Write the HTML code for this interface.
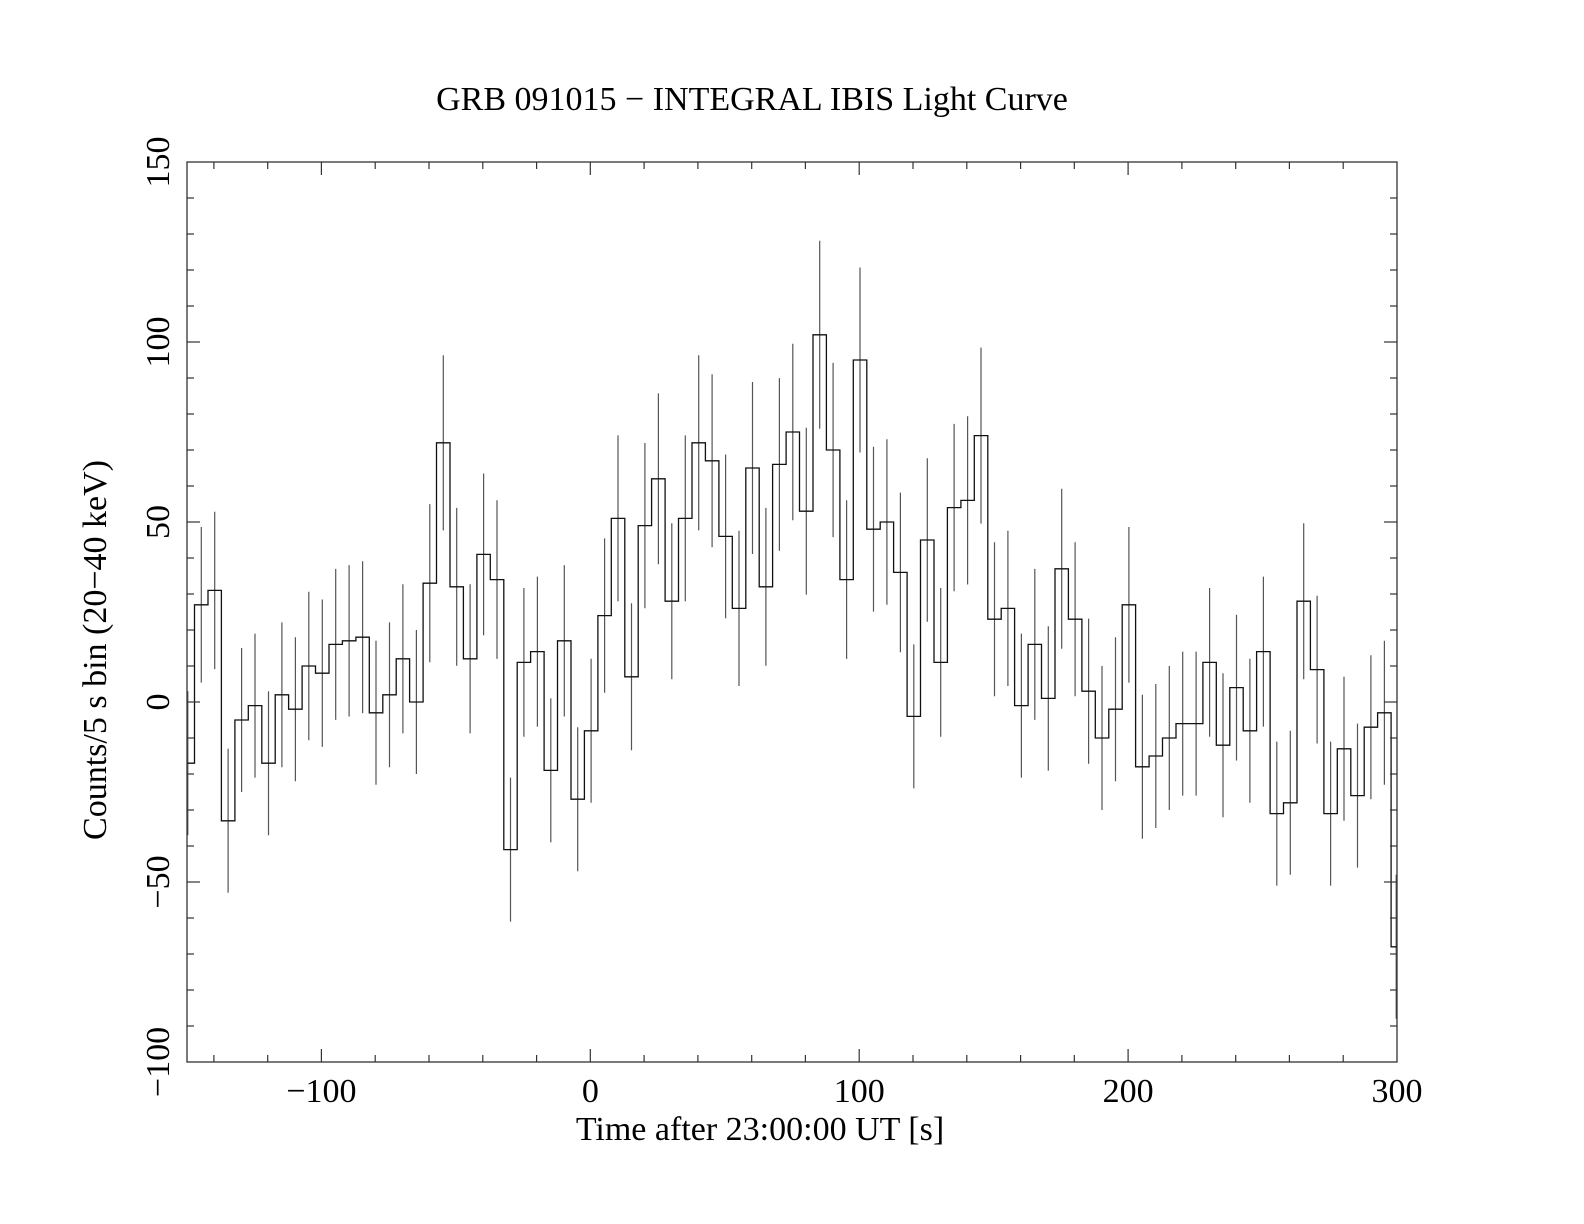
<!DOCTYPE html>
<html><head><meta charset="utf-8"><style>
html,body{margin:0;padding:0;background:#fff;}
svg{display:block;}
text{font-family:"Liberation Serif",serif;fill:#000;}
</style></head><body>
<svg id="s" width="1584" height="1224" xmlns="http://www.w3.org/2000/svg">
<text x="752" y="110" font-size="34" text-anchor="middle">GRB 091015 − INTEGRAL IBIS Light Curve</text>
<text x="760" y="1140" font-size="34" text-anchor="middle">Time after 23:00:00 UT [s]</text>
<text transform="translate(106,650) rotate(-90)" font-size="34" text-anchor="middle">Counts/5 s bin (20−40 keV)</text>
<g id="g"></g>
</svg>
<script>
var X0=187,X1=1397,Y0=162,Y1=1062;
function X(t){return X0+(t+150)*(X1-X0)/450;}
function Y(v){return Y0+(150-v)*(Y1-Y0)/250;}
var v=[-17,27,31,-33,-5,-1,-17,2,-2,10,8,16,17,18,-3,2,12,0,33,72,32,12,41,34,-41,11,14,-19,17,-27,-8,24,51,7,49,62,28,51,72,67,46,26,65,32,66,75,53,102,70,34,95,48,50,36,-4,45,11,54,56,74,23,26,-1,16,1,37,23,3,-10,-2,27,-18,-15,-10,-6,-6,11,-12,4,-8,14,-31,-28,28,9,-31,-13,-26,-7,-3,-68];
var s='';
var d='';
for(var k=0;k<v.length;k++){
 var a=Math.max(-150,-152.2+5*k),b=Math.min(300,-147.2+5*k);
 var y=Y(v[k]).toFixed(1);
 if(k==0)d+='M'+X(a).toFixed(1)+' '+y;else d+='V'+y;
 d+='H'+X(b).toFixed(1);
 var c=-149.7+5*k; if(c>300)c=299.7; if(c<-150)c=-150;
 var e=20+0.06*Math.max(v[k],0);
 var lo=Math.max(-100,v[k]-e),hi=Math.min(150,v[k]+e);
 s+='<line x1="'+X(c).toFixed(1)+'" x2="'+X(c).toFixed(1)+'" y1="'+Y(hi).toFixed(1)+'" y2="'+Y(lo).toFixed(1)+'" stroke="#555" stroke-width="1.2"/>';
}
s+='<path d="'+d+'" fill="none" stroke="#111" stroke-width="1.3"/>';
s+='<rect x="'+X0+'" y="'+Y0+'" width="'+(X1-X0)+'" height="'+(Y1-Y0)+'" fill="none" stroke="#333" stroke-width="1.3"/>';
for(var t=-140;t<300;t+=20){var L=(t%100==0)?13:7,x=X(t).toFixed(1);
 s+='<line x1="'+x+'" x2="'+x+'" y1="'+Y1+'" y2="'+(Y1-L)+'" stroke="#333" stroke-width="1.2"/>';
 s+='<line x1="'+x+'" x2="'+x+'" y1="'+Y0+'" y2="'+(Y0+L)+'" stroke="#333" stroke-width="1.2"/>';}
for(var t=-100;t<=300;t+=100){s+='<text x="'+X(t)+'" y="'+(Y1+40)+'" font-size="34" text-anchor="middle">'+(t<0?'−'+(-t):t)+'</text>';}
for(var q=-90;q<150;q+=10){var L=(q%50==0)?13:7,y=Y(q).toFixed(1);
 s+='<line x1="'+X0+'" x2="'+(X0+L)+'" y1="'+y+'" y2="'+y+'" stroke="#333" stroke-width="1.2"/>';
 s+='<line x1="'+X1+'" x2="'+(X1-L)+'" y1="'+y+'" y2="'+y+'" stroke="#333" stroke-width="1.2"/>';}
for(var q=-100;q<=150;q+=50){s+='<text transform="translate(169,'+Y(q)+') rotate(-90)" font-size="34" text-anchor="middle">'+(q<0?'−'+(-q):q)+'</text>';}
document.getElementById('g').innerHTML=s;
</script>
</body></html>
